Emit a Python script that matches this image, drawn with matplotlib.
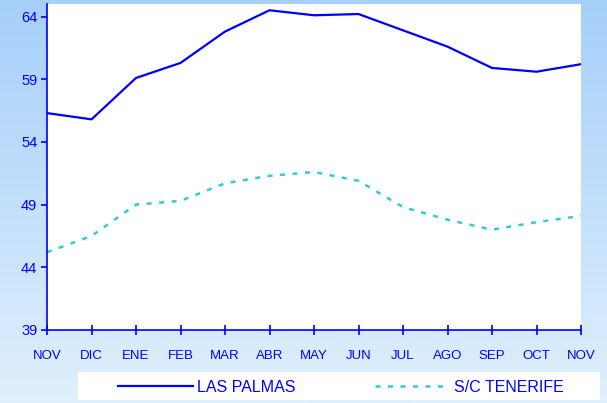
import numpy as np
import matplotlib.pyplot as plt
from matplotlib.colors import LinearSegmentedColormap
from matplotlib.patches import Rectangle

plt.rcParams['font.family'] = ['Liberation Sans', 'DejaVu Sans']

meses = ["NOV", "DIC", "ENE", "FEB", "MAR", "ABR", "MAY", "JUN", "JUL", "AGO", "SEP", "OCT", "NOV"]
las_palmas = [56.3, 55.8, 59.1, 60.3, 62.8, 64.5, 64.1, 64.2, 62.9, 61.6, 59.9, 59.6, 60.2]
tenerife = [45.2, 46.5, 49.0, 49.3, 50.7, 51.3, 51.6, 50.9, 48.8, 47.8, 47.0, 47.6, 48.1]
yticks = [39, 44, 49, 54, 59, 64]

azul = "#0000ff"
turquesa = "#33cccc"

fig = plt.figure(figsize=(6.07, 4.03), dpi=100)

# fondo degradado
bg = fig.add_axes([0, 0, 1, 1], zorder=-10)
grad = np.linspace(0, 1, 256).reshape(-1, 1)
cmap = LinearSegmentedColormap.from_list("fondo", ["#a6cffa", "#e0f0fd"])
bg.imshow(grad, aspect="auto", cmap=cmap, extent=[0, 1, 0, 1])
bg.set_xlim(0, 1)
bg.set_ylim(0, 1)
bg.axis("off")
# caja blanca de la leyenda
bg.add_patch(Rectangle((78/607, 3/403), 522/607, 28/403, facecolor="white",
                       edgecolor="none", transform=fig.transFigure))

ax = fig.add_axes([47/607, 73/403, 534/607, 326/403])
x = np.arange(len(meses))
ax.plot(x, las_palmas, color=azul, lw=1.6, label="LAS PALMAS")
ax.plot(x, tenerife, color=turquesa, lw=1.8, ls=(0, (2, 3)), label="S/C TENERIFE")

ax.set_xlim(0, len(meses) - 1)
ax.set_ylim(39, 65)
ax.set_xticks(x)
ax.set_xticklabels(meses)
ax.set_yticks(yticks)
ax.set_facecolor("white")
for s in ["top", "right"]:
    ax.spines[s].set_visible(False)
for s in ["left", "bottom"]:
    ax.spines[s].set_color(azul)
    ax.spines[s].set_linewidth(1.2)
ax.tick_params(axis="x", direction="inout", length=7, width=1.2, color=azul,
               labelcolor=azul, labelsize=9.5, pad=11)
ax.tick_params(axis="y", direction="out", length=4, width=1.2, color=azul,
               labelcolor=azul, labelsize=10.5, pad=3)

leg = fig.legend(loc="center left", bbox_to_anchor=(118/607, 16/403),
                 ncol=2, frameon=False, handlelength=4.7, handletextpad=0.25,
                 columnspacing=4.95, fontsize=11.5, borderaxespad=0, borderpad=0)
for t in leg.get_texts():
    t.set_color(azul)

fig.savefig("out.png", dpi=100)
